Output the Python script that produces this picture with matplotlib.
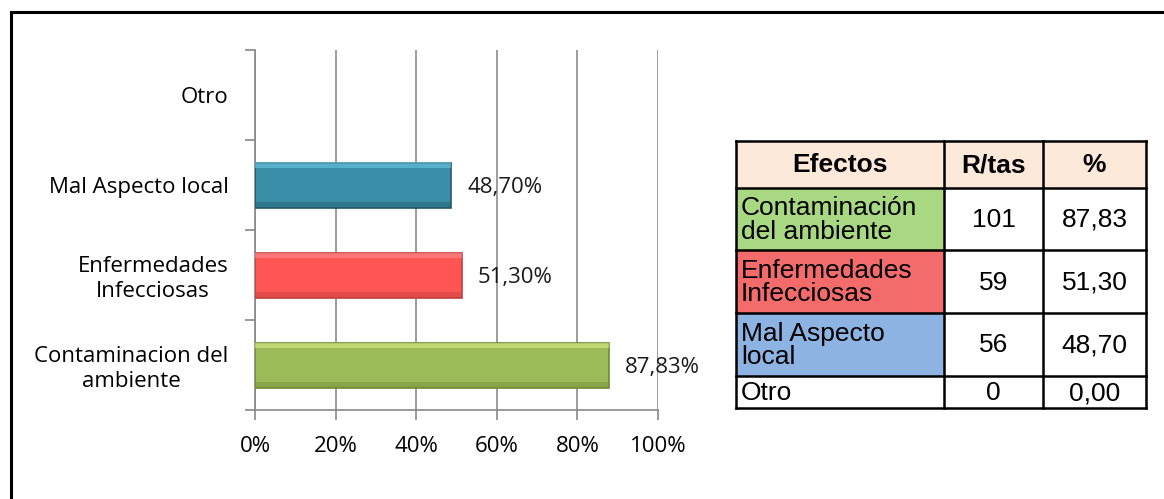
import matplotlib
matplotlib.use("Agg")
import matplotlib.pyplot as plt
from matplotlib.patches import Rectangle
from matplotlib.lines import Line2D

# ---- data ----
categories = ["Contaminacion del\nambiente", "Enfermedades\nInfecciosas", "Mal Aspecto local", "Otro"]
percent = [87.83, 51.30, 48.70, 0.0]
value_labels = ["87,83%", "51,30%", "48,70%", ""]
bar_colors = ["#9BBB59", "#FF5555", "#3A8EA8", "#4F81BD"]
bar_light = ["#D8EC86", "#FF8E8E", "#6CC6E0", "#95B3D7"]
bar_dark = ["#6F8A35", "#C0403D", "#215968", "#385D8A"]
xticks = [0, 20, 40, 60, 80, 100]
xtick_labels = ["0%", "20%", "40%", "60%", "80%", "100%"]

table_header = ["Efectos", "R/tas", "%"]
table_effects = ["Contaminación\ndel ambiente", "Enfermedades\nInfecciosas", "Mal Aspecto\nlocal", "Otro"]
table_counts = ["101", "59", "56", "0"]
table_pcts = ["87,83", "51,30", "48,70", "0,00"]
table_row_colors = ["#A9D883", "#F46B6B", "#8DB3E2", "#FFFFFF"]
header_color = "#FDE9D9"

W, H = 1164, 499
fig = plt.figure(figsize=(W / 100, H / 100), dpi=100)

chart_font = ["Open Sans", "DejaVu Sans"]
table_font = ["Liberation Sans", "DejaVu Sans"]
FS = 16
TFS = 19

# ---- bar chart ----
ax = fig.add_axes([255 / W, 1 - 410 / H, (658 - 255) / W, (410 - 50) / H])
ypos = list(range(len(categories)))
lw = [1.2 if v > 0 else 0 for v in percent]
ax.barh(ypos, percent, height=0.5, color=bar_colors, edgecolor=bar_dark, linewidth=lw, zorder=3)
# bevel highlights (top light, bottom dark)
top_y = [y + 0.25 - 0.03 for y in ypos]
bot_y = [y - 0.25 + 0.03 for y in ypos]
ax.barh(top_y, percent, height=0.06, color=bar_light, linewidth=0, alpha=0.6, zorder=4)
ax.barh(bot_y, percent, height=0.06, color=bar_dark, linewidth=0, alpha=0.45, zorder=4)
for y, v, lab in zip(ypos, percent, value_labels):
    if lab:
        ax.text(v + 4, y - 0.03, lab, va="center", ha="left", fontsize=FS, family=chart_font, color="#1a1a1a")
ax.set_xlim(0, 100)
ax.set_ylim(-0.5, len(categories) - 0.5)
ax.set_xticks(xticks)
ax.set_xticklabels(xtick_labels, fontsize=FS, family=chart_font)
ax.set_yticks(ypos)
ax.set_yticklabels(categories, fontsize=FS, family=chart_font, ha="right", multialignment="center")
ax.tick_params(axis="y", length=0, pad=19)
ax.tick_params(axis="x", length=7, color="#888888", width=1.2, pad=12)
ax.set_yticks([i - 0.5 for i in range(len(categories) + 1)], minor=True)
ax.tick_params(axis="y", which="minor", length=7, color="#888888", width=1.2)
ax.grid(axis="x", color="#8C8C8C", linewidth=1.2, zorder=0)
for s in ["top", "right"]:
    ax.spines[s].set_visible(False)
for s in ["left", "bottom"]:
    ax.spines[s].set_color("#888888")
    ax.spines[s].set_linewidth(1.2)

# ---- overlay for table and border ----
ov = fig.add_axes([0, 0, 1, 1], zorder=5)
ov.set_xlim(0, W)
ov.set_ylim(H, 0)
ov.axis("off")

col_x = [736, 944, 1043, 1146]
row_y = [141, 188, 250, 313, 376, 408]

for c in range(3):
    ov.add_patch(Rectangle((col_x[c], row_y[0]), col_x[c + 1] - col_x[c], row_y[1] - row_y[0],
                           facecolor=header_color, edgecolor="none"))
    ov.text((col_x[c] + col_x[c + 1]) / 2, (row_y[0] + row_y[1]) / 2 + 1, table_header[c],
            ha="center", va="center", fontsize=TFS, fontweight="bold", family=table_font)
for r in range(4):
    y0, y1 = row_y[r + 1], row_y[r + 2]
    ov.add_patch(Rectangle((col_x[0], y0), col_x[1] - col_x[0], y1 - y0,
                           facecolor=table_row_colors[r], edgecolor="none"))
    ov.text(col_x[0] + 5, (y0 + y1) / 2 + 1, table_effects[r], ha="left", va="center",
            fontsize=TFS, family=table_font, linespacing=0.95)
    ov.text((col_x[1] + col_x[2]) / 2, (y0 + y1) / 2 + 1, table_counts[r], ha="center", va="center",
            fontsize=TFS, family=table_font)
    ov.text((col_x[2] + col_x[3]) / 2, (y0 + y1) / 2 + 1, table_pcts[r], ha="center", va="center",
            fontsize=TFS, family=table_font)
for x in col_x:
    ov.add_line(Line2D([x, x], [row_y[0], row_y[-1]], color="black", linewidth=1.8))
for y in row_y:
    ov.add_line(Line2D([col_x[0], col_x[-1]], [y, y], color="black", linewidth=1.8))

# outer border (top and left visible)
ov.add_line(Line2D([11, W], [12, 12], color="black", linewidth=2.2))
ov.add_line(Line2D([11, 11], [12, H], color="black", linewidth=2.2))

fig.savefig("out.png", dpi=100)
